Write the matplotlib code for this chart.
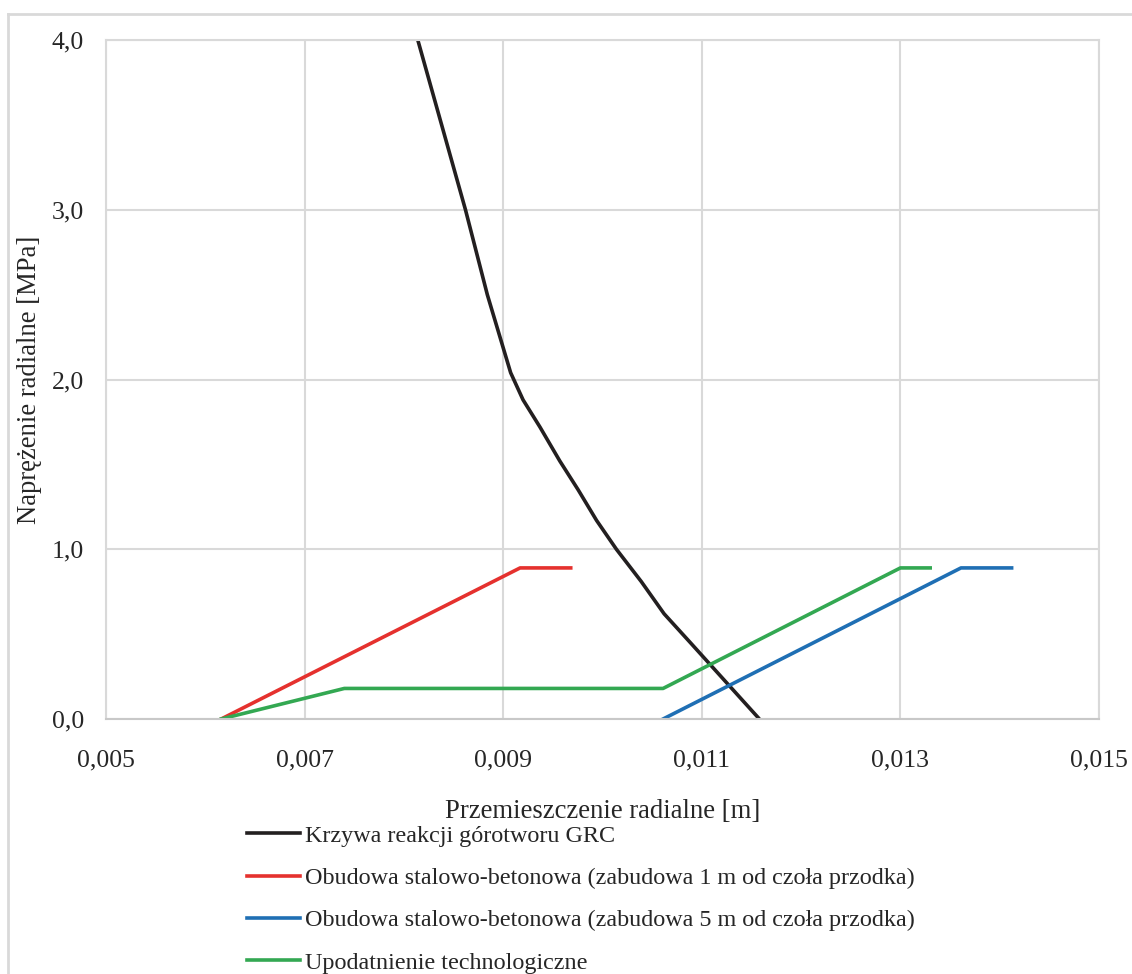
import matplotlib
matplotlib.use("Agg")
import matplotlib.pyplot as plt
from matplotlib.ticker import FuncFormatter
from matplotlib.lines import Line2D

plt.rcParams['font.family'] = ['Liberation Serif', 'DejaVu Serif']

# ground reaction curve (GRC)
grc_u = [0.00814, 0.00838, 0.00862, 0.00884, 0.009075, 0.00920, 0.00937, 0.00957,
         0.009755, 0.00994, 0.01014, 0.01039, 0.01062, 0.01090, 0.01158]
grc_p = [4.0, 3.5, 3.0, 2.5, 2.04, 1.88, 1.72, 1.52, 1.35, 1.17, 1.0, 0.81, 0.62, 0.44, 0.0]

# support lines
sup1_u = [0.00616, 0.00917, 0.00968]
sup1_p = [0.0, 0.89, 0.89]

sup5_u = [0.01061, 0.01361, 0.01412]
sup5_p = [0.0, 0.89, 0.89]

yield_u = [0.00616, 0.00740, 0.01061, 0.01300, 0.01330]
yield_p = [0.0, 0.18, 0.18, 0.89, 0.89]

xticks = [0.005, 0.007, 0.009, 0.011, 0.013, 0.015]
yticks = [0.0, 1.0, 2.0, 3.0, 4.0]

labels = ["Krzywa reakcji górotworu GRC",
          "Obudowa stalowo-betonowa (zabudowa 1 m od czoła przodka)",
          "Obudowa stalowo-betonowa (zabudowa 5 m od czoła przodka)",
          "Upodatnienie technologiczne"]
colors = ["#231f20", "#e5312e", "#1f6fb4", "#33a852"]

W, H = 1132, 974
fig = plt.figure(figsize=(W / 100, H / 100), dpi=100)
ax = fig.add_axes([106 / W, 1 - 719 / H, (1099 - 106) / W, (719 - 40) / H])

lw = 2.6
ax.plot(grc_u, grc_p, color=colors[0], lw=lw, solid_capstyle='butt')
ax.plot(sup1_u, sup1_p, color=colors[1], lw=lw)
ax.plot(sup5_u, sup5_p, color=colors[2], lw=lw)
ax.plot(yield_u, yield_p, color=colors[3], lw=lw)

ax.set_xlim(0.005, 0.015)
ax.set_ylim(0, 4.0)
ax.set_xticks(xticks)
ax.set_yticks(yticks)
ax.xaxis.set_major_formatter(FuncFormatter(lambda v, p: f"{v:.3f}".replace(".", ",")))
ax.yaxis.set_major_formatter(FuncFormatter(lambda v, p: f"{v:.1f}".replace(".", ",")))

ax.grid(True, color="#d9d9d9", lw=1.5)
ax.set_axisbelow(True)
for s in ax.spines.values():
    s.set_color("#d9d9d9")
    s.set_linewidth(1.5)
ax.spines['bottom'].set_color("#c8c8c8")
ax.tick_params(length=0, labelsize=18.5, colors="#262626")
ax.tick_params(axis='x', pad=22)
ax.tick_params(axis='y', pad=16)

ax.set_xlabel("Przemieszczenie radialne [m]", fontsize=19.2, color="#262626")
ax.set_ylabel("Naprężenie radialne [MPa]", fontsize=19.2, color="#262626")
ax.xaxis.set_label_coords(0.5, (719 - 799) / 679)
ax.yaxis.set_label_coords((42 - 106) / 993, 0.5)

handles = [Line2D([], [], color=c, lw=lw) for c in colors]
fig.legend(handles, labels, loc='upper left', bbox_to_anchor=(247 / W, 1 - 825 / H),
           frameon=False, fontsize=17.4, handlelength=2.2, handletextpad=0.2,
           labelspacing=0.84, borderpad=0, borderaxespad=0, labelcolor="#262626")

# outer chart frame
fig.add_artist(Line2D([8 / W, 1], [1 - 14 / H, 1 - 14 / H], color="#d9d9d9", lw=2))
fig.add_artist(Line2D([8 / W, 8 / W], [0, 1 - 14 / H], color="#d9d9d9", lw=2))

fig.savefig("out.png", dpi=100)
